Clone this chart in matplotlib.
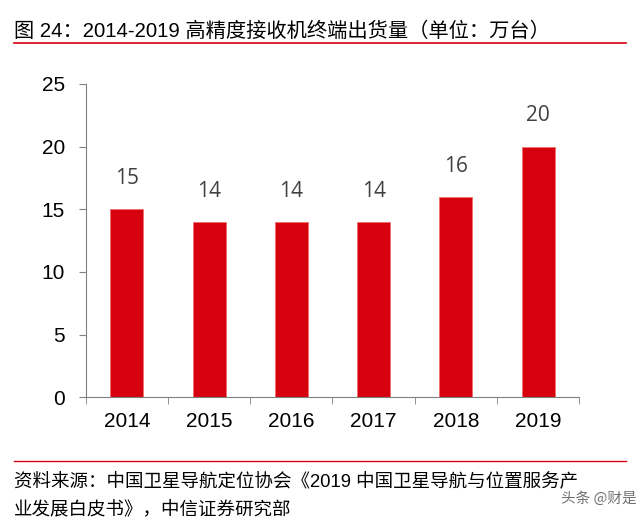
import matplotlib.pyplot as plt
from matplotlib.lines import Line2D

plt.rcParams['font.family'] = ['Liberation Sans', 'Noto Sans CJK SC', 'DejaVu Sans']

# dados
anos = ['2014', '2015', '2016', '2017', '2018', '2019']
vendas = [15, 14, 14, 14, 16, 20]
yticks = [0, 5, 10, 15, 20, 25]

titulo = '图 24：2014-2019 高精度接收机终端出货量（单位：万台）'
fonte1 = '资料来源：中国卫星导航定位协会《2019 中国卫星导航与位置服务产'
fonte2 = '业发展白皮书》，中信证券研究部'
marca = '头条 @财是'

vermelho = '#D7000F'

fig = plt.figure(figsize=(6.4, 5.24), dpi=100)
ax = fig.add_axes([0.134, 0.242, 0.771, 0.598])

x = list(range(len(anos)))
ax.bar(x, vendas, width=0.4, color=vermelho, edgecolor='#F07070', linewidth=0.6)
for xi, v in zip(x, vendas):
    ax.text(xi, v + 1.6, str(v), ha='center', va='bottom', fontsize=15, color='#404040',
            family=['Open Sans', 'DejaVu Sans'])

ax.set_xlim(-0.5, len(anos) - 0.5)
ax.set_ylim(0, 25)
ax.set_yticks(yticks)
ax.set_yticklabels([str(t) for t in yticks], fontsize=15)
ax.set_xticks(x)
ax.set_xticklabels(anos, fontsize=15)
ax.tick_params(axis='x', length=0, pad=11)
ax.set_xticks([i - 0.5 for i in range(len(anos) + 1)], minor=True)
ax.tick_params(axis='x', which='minor', length=5, color='#808080', direction='out')
ax.tick_params(axis='y', length=5, color='#808080', pad=10)
for s in ['top', 'right']:
    ax.spines[s].set_visible(False)
ax.spines['left'].set_color('#808080')
ax.spines['bottom'].set_color('#808080')

# titulo e linhas
fig.text(14 / 640, 1 - 31 / 524, titulo, fontsize=14.6, va='center', ha='left')
fig.add_artist(Line2D([14 / 640, 626 / 640], [1 - 43 / 524] * 2, color=vermelho, lw=1.2))
fig.add_artist(Line2D([14 / 640, 626 / 640], [1 - 461 / 524] * 2, color=vermelho, lw=1.0))

fig.text(14 / 640, 1 - 482 / 524, fonte1, fontsize=13.3, va='center', ha='left')
fig.text(14 / 640, 1 - 511 / 524, fonte2, fontsize=13.3, va='center', ha='left')
fig.text(637 / 640, 1 - 499 / 524, marca, fontsize=10.5, va='center', ha='right', color='#707070',
         family=['Noto Sans CJK SC'])

fig.savefig('out.png', dpi=100)
